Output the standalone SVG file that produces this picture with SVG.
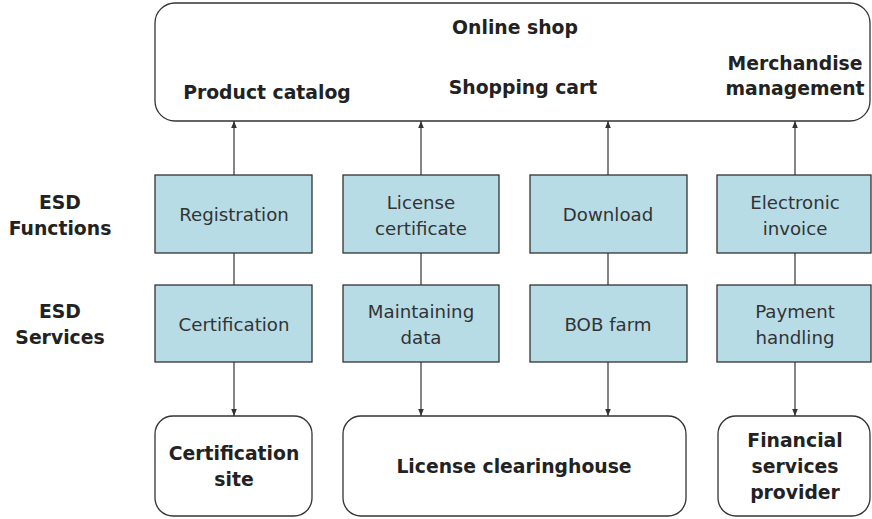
<svg xmlns="http://www.w3.org/2000/svg" width="872" height="519" viewBox="0 0 872 519">
<defs>
<marker id="ah" viewBox="0 0 10 10" refX="10" refY="5" markerWidth="7" markerHeight="7" markerUnits="userSpaceOnUse" orient="auto"><path d="M0,1 L10,5 L0,9 z" fill="#333"/></marker>
<style>
.frame{fill:#fff;stroke:#333;stroke-width:1.3}
.blue{fill:#b7dce6;stroke:#333;stroke-width:1.3}
.b{font-family:"DejaVu Sans",Verdana,sans-serif;font-weight:bold;font-size:18.8px;fill:#222;text-anchor:middle}
.r{font-family:"DejaVu Sans",Verdana,sans-serif;font-size:18.2px;fill:#333;text-anchor:middle}
.c{stroke:#333;stroke-width:1.2;fill:none}
</style>
</defs>
<rect width="872" height="519" fill="#fff"/>
<g id="online-shop">
<rect class="frame" x="155" y="3" width="715" height="118" rx="20"/>
<text class="b" x="515" y="34">Online shop</text>
<text class="b" x="267" y="99">Product catalog</text>
<text class="b" x="523" y="94">Shopping cart</text>
<text class="b" x="795" y="70">Merchandise</text>
<text class="b" x="795" y="95">management</text>
</g>
<g id="label-functions"><text class="b" x="60" y="209">ESD</text><text class="b" x="60" y="235">Functions</text></g>
<g id="label-services"><text class="b" x="60" y="318">ESD</text><text class="b" x="60" y="344">Services</text></g>
<g id="registration"><rect class="blue" x="155" y="175" width="157" height="78"/><text class="r" x="234" y="221">Registration</text></g>
<g id="license-certificate"><rect class="blue" x="343" y="175" width="156" height="78"/><text class="r" x="421" y="209">License</text><text class="r" x="421" y="235">certificate</text></g>
<g id="download"><rect class="blue" x="530" y="175" width="157" height="78"/><text class="r" x="608" y="221">Download</text></g>
<g id="electronic-invoice"><rect class="blue" x="717" y="175" width="154" height="78"/><text class="r" x="795" y="209">Electronic</text><text class="r" x="795" y="235">invoice</text></g>
<g id="certification"><rect class="blue" x="155" y="285" width="157" height="77"/><text class="r" x="234" y="331">Certification</text></g>
<g id="maintaining-data"><rect class="blue" x="343" y="285" width="156" height="77"/><text class="r" x="421" y="318">Maintaining</text><text class="r" x="421" y="344">data</text></g>
<g id="bob-farm"><rect class="blue" x="530" y="285" width="157" height="77"/><text class="r" x="608" y="331">BOB farm</text></g>
<g id="payment-handling"><rect class="blue" x="717" y="285" width="154" height="77"/><text class="r" x="795" y="318">Payment</text><text class="r" x="795" y="344">handling</text></g>
<g id="certification-site"><rect class="frame" x="155" y="416" width="157" height="100" rx="18"/><text class="b" x="234" y="460">Certification</text><text class="b" x="234" y="486">site</text></g>
<g id="license-clearinghouse"><rect class="frame" x="343" y="416" width="343" height="100" rx="18"/><text class="b" x="514" y="473">License clearinghouse</text></g>
<g id="financial-services-provider"><rect class="frame" x="718" y="416" width="152" height="100" rx="18"/><text class="b" x="795" y="447">Financial</text><text class="b" x="795" y="473">services</text><text class="b" x="795" y="499">provider</text></g>
<g id="connectors">
<line class="c" x1="234" y1="175" x2="234" y2="121" marker-end="url(#ah)"/>
<line class="c" x1="421" y1="175" x2="421" y2="121" marker-end="url(#ah)"/>
<line class="c" x1="608" y1="175" x2="608" y2="121" marker-end="url(#ah)"/>
<line class="c" x1="795" y1="175" x2="795" y2="121" marker-end="url(#ah)"/>
<line class="c" x1="234" y1="253" x2="234" y2="285"/>
<line class="c" x1="421" y1="253" x2="421" y2="285"/>
<line class="c" x1="608" y1="253" x2="608" y2="285"/>
<line class="c" x1="795" y1="253" x2="795" y2="285"/>
<line class="c" x1="234" y1="362" x2="234" y2="416" marker-end="url(#ah)"/>
<line class="c" x1="421" y1="362" x2="421" y2="416" marker-end="url(#ah)"/>
<line class="c" x1="608" y1="362" x2="608" y2="416" marker-end="url(#ah)"/>
<line class="c" x1="795" y1="362" x2="795" y2="416" marker-end="url(#ah)"/>
</g>
</svg>
